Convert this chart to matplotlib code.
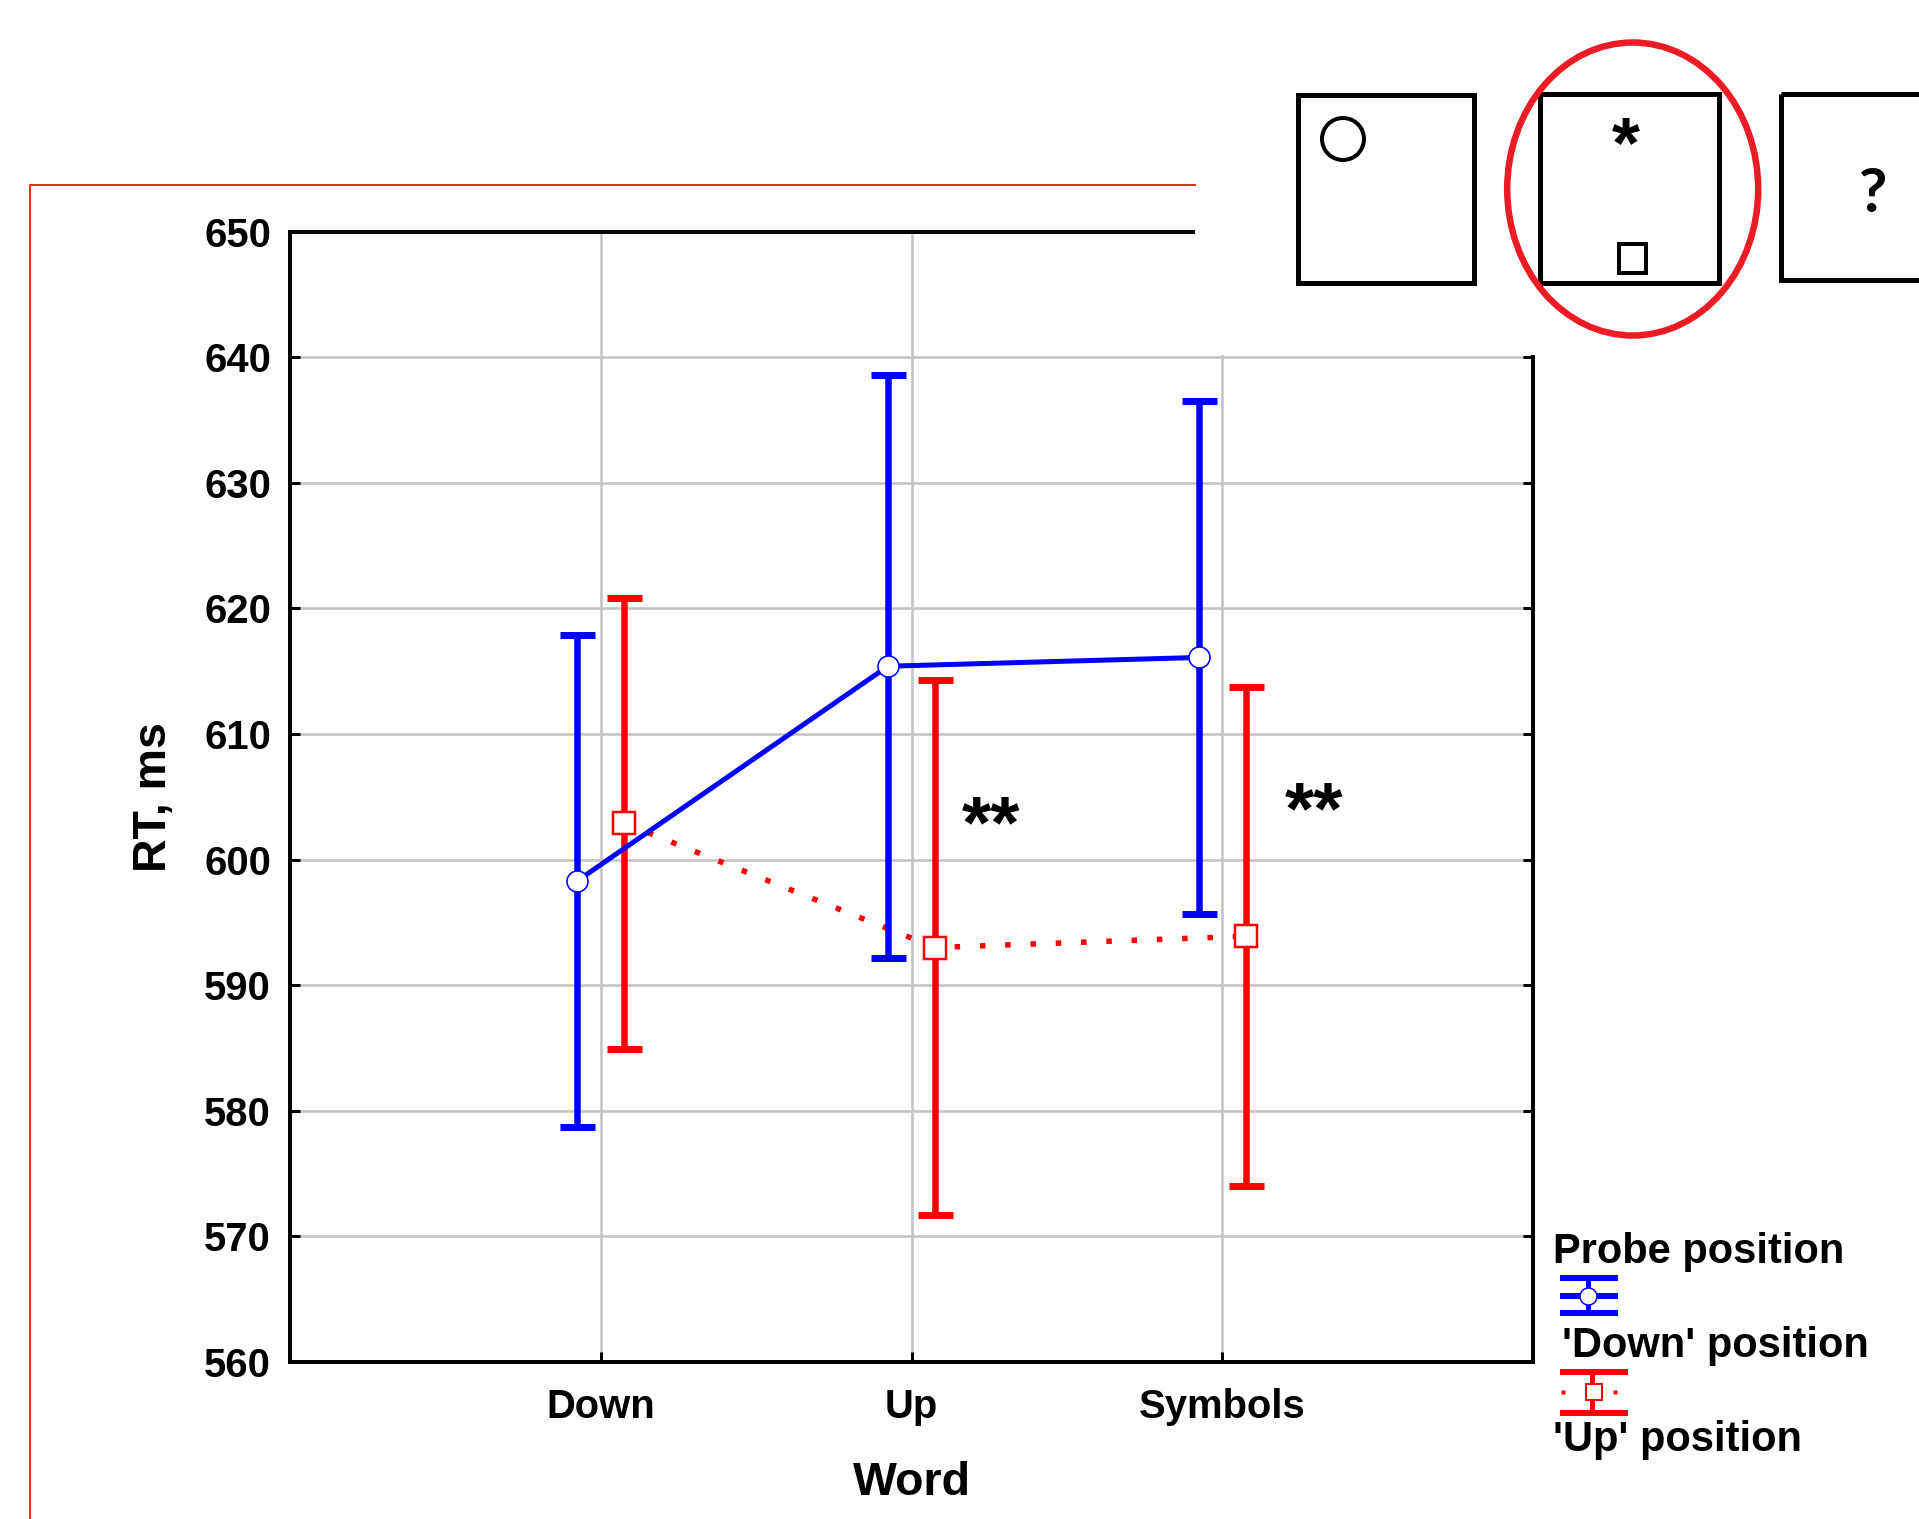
import matplotlib
matplotlib.use('Agg')
import matplotlib.pyplot as plt
from matplotlib.patches import Rectangle, Ellipse, Circle
import numpy as np

# ---------------- data ----------------
categories = ['Down', 'Up', 'Symbols']
down_probe_mean = [598.3, 615.4, 616.1]
down_probe_err = [19.6, 23.2, 20.4]
up_probe_mean = [602.9, 593.0, 593.9]
up_probe_err = [17.95, 21.3, 19.85]
y_ticks = [560, 570, 580, 590, 600, 610, 620, 630, 640, 650]
legend_title = 'Probe position'
series_labels = ["'Down' position", "'Up' position"]
x_label = 'Word'
y_label = 'RT, ms'
sig_labels = ['**', '**']
sig_x = [1.256, 2.294]
sig_y = [601.0, 602.1]

PX = 72.0 / 100.0  # points per pixel
W, H = 1919, 1519
FONT = 'Liberation Sans'
FS = 40 * PX
FS_LEG = 41.6 * PX
FS_LAB = 46.5 * PX

fig = plt.figure(figsize=(W / 100, H / 100), dpi=100)
ax = fig.add_axes([290 / W, 1 - 1362 / H, (1533 - 290) / W, (1362 - 231.7) / H])

x = np.arange(len(categories))
off = 0.076

# Red ('Up' position)
ax.errorbar(x + off, up_probe_mean, yerr=up_probe_err, fmt='none', ecolor='#ff0000',
            elinewidth=6.5 * PX, capsize=17.5 * PX, capthick=7 * PX, zorder=3)
ax.plot(x + off, up_probe_mean, color='#ff0000', lw=5.5 * PX, ls=(0, (1, 3.6)), zorder=3)
ax.plot(x + off, up_probe_mean, ls='none', marker='s', ms=22 * PX, mfc='white',
        mec='#ff0000', mew=2.5 * PX, zorder=4)

# Blue ('Down' position)
ax.errorbar(x - off, down_probe_mean, yerr=down_probe_err, fmt='none', ecolor='#0000ff',
            elinewidth=6.5 * PX, capsize=17.5 * PX, capthick=7 * PX, zorder=4.2)
ax.plot(x - off, down_probe_mean, color='#0000ff', lw=5 * PX, zorder=5)
ax.plot(x - off, down_probe_mean, ls='none', marker='o', ms=21 * PX, mfc='white',
        mec='#0000ff', mew=1.6 * PX, zorder=6)

for sx, sy, s in zip(sig_x, sig_y, sig_labels):
    ax.text(sx, sy, s, ha='center', va='baseline', fontsize=75 * PX,
            fontweight='bold', family=FONT, zorder=7)

ax.set_xlim(-1, 3)
ax.set_ylim(560, 650)
ax.set_xticks(x)
ax.set_xticklabels(categories)
ax.set_yticks(y_ticks)
ax.set_axisbelow(True)
ax.grid(True, color='#c4c4c4', lw=2.6 * PX)
for sp in ax.spines.values():
    sp.set_linewidth(4 * PX)
ax.tick_params(direction='in', length=10 * PX, width=3 * PX, right=True, top=False,
               labelsize=FS, pad=19 * PX)
ax.tick_params(axis='x', pad=26 * PX)
for lab in ax.get_xticklabels() + ax.get_yticklabels():
    lab.set_fontweight('bold')
    lab.set_family(FONT)

ax.set_xlabel(x_label, fontsize=FS_LAB, fontweight='bold', family=FONT)
ax.set_ylabel(y_label, fontsize=FS_LAB, fontweight='bold', family=FONT)
ax.xaxis.set_label_coords(0.5, -(1461 - 1362) / (1362 - 231.7))
ax.yaxis.set_label_coords((176 - 290) / (1533 - 290), 0.5)

# ---------------- overlay (pixel coordinates) ----------------
ov = fig.add_axes([0, 0, 1, 1], zorder=10)
ov.set_xlim(0, W)
ov.set_ylim(H, 0)
ov.axis('off')
ov.patch.set_alpha(0)

# red slide frame
ov.plot([30, 1195], [185, 185], color='#e33020', lw=2 * PX)
ov.plot([30, 30], [185, H], color='#e33020', lw=2 * PX)

# inset covering the top-right of the chart
ov.add_patch(Rectangle((1195, 0), W - 1195, 355, fc='white', ec='none'))
ov.add_patch(Rectangle((1298, 94.5), 176, 188, fc='none', ec='black', lw=5 * PX))
ov.add_patch(Rectangle((1540, 93.5), 178.5, 189.5, fc='none', ec='black', lw=5 * PX))
ov.add_patch(Rectangle((1781, 93.5), 200, 186.5, fc='none', ec='black', lw=5 * PX))
ov.add_patch(Circle((1343, 139), 21, fc='none', ec='black', lw=4 * PX))
ov.add_patch(Rectangle((1618.5, 243.5), 27.5, 29, fc='none', ec='black', lw=4 * PX))
ov.text(1625.6, 167, '*', ha='center', va='baseline', fontsize=72 * PX,
        fontweight='bold', family=FONT)
ov.text(1873, 211.7, '?', ha='center', va='baseline', fontsize=62 * PX,
        fontweight='bold', family='Lato')
ov.add_patch(Ellipse((1632.7, 189), 251, 293, fc='none', ec='#ed1c24', lw=6.5 * PX))

# legend
ov.text(1553, 1262.7, legend_title, ha='left', va='baseline', fontsize=FS_LEG,
        fontweight='bold', family=FONT)
ov.text(1562, 1356.7, series_labels[0], ha='left', va='baseline', fontsize=FS_LEG,
        fontweight='bold', family=FONT)
ov.text(1553, 1451, series_labels[1], ha='left', va='baseline', fontsize=FS_LEG,
        fontweight='bold', family=FONT)
# blue glyph
for yy in (1278, 1296, 1313):
    ov.plot([1560, 1618], [yy, yy], color='#0000ff', lw=6 * PX, solid_capstyle='butt')
ov.plot([1588, 1588], [1278, 1313], color='#0000ff', lw=5 * PX)
ov.plot([1588], [1296], marker='o', ms=17 * PX, mfc='white', mec='#0000ff', mew=1.5 * PX)
# red glyph
for yy in (1371.7, 1412.7):
    ov.plot([1560, 1628], [yy, yy], color='#ff0000', lw=6 * PX, solid_capstyle='butt')
ov.plot([1592, 1592], [1371.7, 1412.7], color='#ff0000', lw=5 * PX)
ov.plot([1563, 1615], [1392, 1392], ls='none', marker='s', ms=4.5 * PX, mfc='#ff0000',
        mec='none')
ov.plot([1594], [1392], marker='s', ms=16 * PX, mfc='white', mec='#ff0000', mew=2 * PX)

fig.savefig('out.png', dpi=100)
